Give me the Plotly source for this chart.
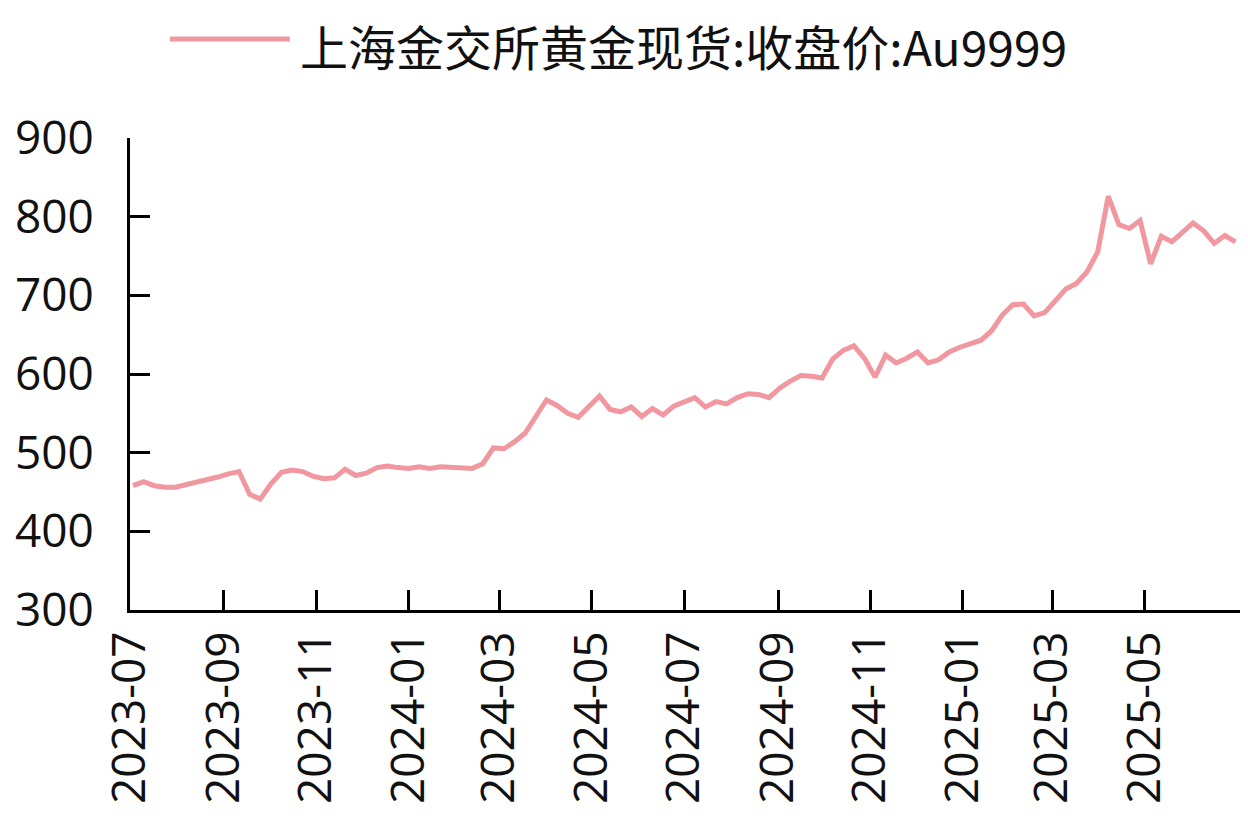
import pandas as pd
import plotly.graph_objects as go

# weekly closes (yuan/gram)
dates = pd.date_range("2023-07-03", periods=105, freq="7D")
au9999 = [
    458, 463, 458, 456, 456, 459, 462, 465, 469, 473,
    476, 447, 441, 460, 475, 478, 476, 470, 467, 468,
    479, 471, 474, 481, 483, 481, 480, 482, 480, 482,
    481, 480, 480, 486, 506, 505, 514, 525, 546, 567,
    560, 550, 545, 558, 572, 555, 552, 558, 546, 556,
    548, 559, 565, 570, 558, 565, 562, 570, 575, 574,
    570, 582, 591, 598, 597, 595, 619, 630, 636, 620,
    596, 624, 614, 620, 628, 614, 618, 628, 634, 638,
    643, 655, 675, 688, 689, 674, 678, 693, 708, 715,
    730, 755, 826, 790, 785, 795, 740, 775, 768, 780,
    792, 782, 766, 776, 768,
]

tick_dates = pd.date_range("2023-07-01", "2025-05-01", freq="2MS")
series_name = "上海金交所黄金现货:收盘价:Au9999"
line_color = "#F0979F"

fig = go.Figure()
fig.add_trace(go.Scatter(x=dates, y=au9999, mode="lines", name=series_name,
                         line=dict(color=line_color, width=5), showlegend=False))

# legend drawn by hand so the sample line can be long
fig.add_shape(type="line", xref="paper", yref="paper", x0=0.036, x1=0.144, y0=1.21, y1=1.21,
              line=dict(color=line_color, width=5))
fig.add_annotation(text=series_name, xref="paper", yref="paper", x=0.152, y=1.198,
                   xanchor="left", yanchor="middle", showarrow=False, borderpad=0,
                   font=dict(family="Noto Sans CJK SC", size=48, color="#111"))

# page body has an 8px margin, so the figure is a little smaller than the window
fig.update_layout(
    width=1240, height=814,
    margin=dict(l=122, r=8, t=130, b=212),
    plot_bgcolor="white", paper_bgcolor="white",
    font=dict(family="Open Sans", size=46, color="#111"),
)
fig.update_xaxes(range=["2023-07-01", "2025-07-03"], tickvals=tick_dates,
                 tickformat="%Y-%m", tickangle=-90, showgrid=False, automargin=False,
                 showline=True, linecolor="black", linewidth=3,
                 ticks="inside", ticklen=20, tickwidth=3, tickcolor="black",
                 ticklabelstandoff=0)
fig.update_yaxes(range=[300, 900], dtick=100, showgrid=False, zeroline=False, automargin=False,
                 showline=True, linecolor="black", linewidth=3,
                 ticks="inside", ticklen=20, tickwidth=3, tickcolor="black",
                 ticklabelstandoff=24)

fig.write_html("out.html")
